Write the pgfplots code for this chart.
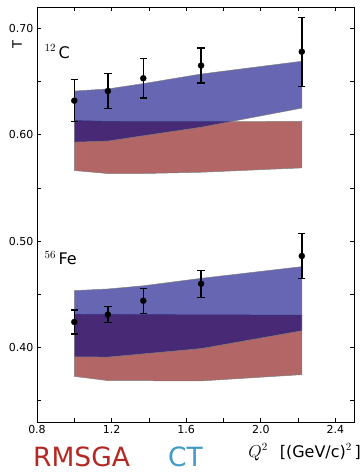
\documentclass[border=0pt]{standalone}
\usepackage{pgfplots}
\pgfplotsset{compat=1.18}
\usepackage{fontspec}
\setmainfont{DejaVu Sans}
\definecolor{bandblue}{RGB}{0,0,128}
\definecolor{bandred}{RGB}{128,0,0}
\definecolor{rmsga}{RGB}{180,40,35}
\definecolor{ctcol}{RGB}{65,155,195}
\begin{document}
\begin{tikzpicture}
\begin{axis}[name=ax,
 scale only axis, width=317pt, height=415pt,
 xmin=0.8, xmax=2.5, ymin=0.33, ymax=0.72,
 xtick={0.8,1.2,1.6,2.0,2.4}, minor xtick={1.0,1.4,1.8,2.2},
 ytick={0.4,0.5,0.6,0.7}, minor ytick={0.35,0.45,0.55,0.65},
 tick align=inside, tick pos=both,
 major tick length=4pt, minor tick length=4pt,
 every tick/.style={black, line width=0.6pt},
 axis line style={line width=0.9pt},
 /pgf/number format/assume math mode=true,
 tick label style={font=\fontsize{11}{13}\selectfont},
 xticklabel style={/pgf/number format/fixed, /pgf/number format/fixed zerofill, /pgf/number format/precision=1},
 yticklabel style={/pgf/number format/fixed, /pgf/number format/fixed zerofill, /pgf/number format/precision=2},
 ylabel={T},
 ylabel style={at={(axis description cs:-0.063,0.91)}, anchor=center, font=\fontsize{13}{15}\selectfont},
]
% carbon bands
\addplot[draw=gray, line width=0.5pt, fill=bandred, fill opacity=0.6] coordinates {(1.0,0.5663)(1.18,0.5635)(1.37,0.5635)(1.68,0.5647)(2.22,0.5688)(2.22,0.6125)(1.68,0.6122)(1.37,0.6122)(1.18,0.6125)(1.0,0.6133)} -- cycle;
\addplot[draw=gray, line width=0.5pt, fill=bandblue, fill opacity=0.6] coordinates {(1.0,0.593)(1.18,0.594)(1.37,0.599)(1.68,0.607)(2.22,0.625)(2.22,0.669)(1.68,0.657)(1.37,0.648)(1.18,0.643)(1.0,0.641)} -- cycle;
% iron bands
\addplot[draw=gray, line width=0.5pt, fill=bandred, fill opacity=0.6] coordinates {(1.0,0.3729)(1.18,0.3689)(1.37,0.3688)(1.68,0.3686)(2.22,0.3745)(2.22,0.4304)(1.68,0.4307)(1.37,0.4309)(1.18,0.4311)(1.0,0.4313)} -- cycle;
\addplot[draw=gray, line width=0.5pt, fill=bandblue, fill opacity=0.6] coordinates {(1.0,0.3913)(1.18,0.391)(1.37,0.394)(1.68,0.399)(2.22,0.4157)(2.22,0.476)(1.68,0.465)(1.37,0.458)(1.18,0.455)(1.0,0.4535)} -- cycle;
% data
\addplot[black, only marks, mark=*, mark size=3pt,
 error bars/.cd, y dir=both, y explicit,
 error bar style={line width=1.5pt},
 error mark options={rotate=90, mark size=3.7pt, line width=1.2pt}]
 coordinates {(1.0,0.632) +- (0,0.0195) (1.18,0.641) +- (0,0.0165) (1.37,0.653) +- (0,0.0185) (1.68,0.665) +- (0,0.0165) (2.22,0.678) +- (0,0.0325)};
\addplot[black, only marks, mark=*, mark size=3pt,
 error bars/.cd, y dir=both, y explicit,
 error bar style={line width=1.5pt},
 error mark options={rotate=90, mark size=3.7pt, line width=1.2pt}]
 coordinates {(1.0,0.424) +- (0,0.0113) (1.18,0.431) +- (0,0.0073) (1.37,0.444) +- (0,0.0118) (1.68,0.460) +- (0,0.0127) (2.22,0.486) +- (0,0.0208)};
\node[anchor=base west, font=\fontsize{16}{18}\selectfont, inner sep=0pt] at (axis cs:0.84,0.672) {$^{12}$\kern2.5pt C};
\node[anchor=base west, font=\fontsize{16}{18}\selectfont, inner sep=0pt] at (axis cs:0.84,0.478) {$^{56}$\kern2.5pt Fe};
\end{axis}
\node[anchor=base west, font=\fontsize{26.5}{30}\selectfont, text=rmsga, inner sep=0pt] at ([xshift=-4pt,yshift=-44.5pt]ax.south west) {RMSGA};
\node[anchor=base west, font=\fontsize{26.5}{30}\selectfont, text=ctcol, inner sep=0pt] at ([xshift=131pt,yshift=-44.5pt]ax.south west) {CT};
\node[anchor=base east, font=\fontsize{16}{18}\selectfont, inner sep=0pt] at ([xshift=7pt,yshift=-35pt]ax.south east) {$Q^2$\hspace{12pt}[(GeV/c)$^2$\,]};
\pgfresetboundingbox
\path ([shift={(-37pt,-50pt)}]ax.south west) rectangle ([shift={(10pt,7pt)}]ax.north east);
\end{tikzpicture}
\end{document}
